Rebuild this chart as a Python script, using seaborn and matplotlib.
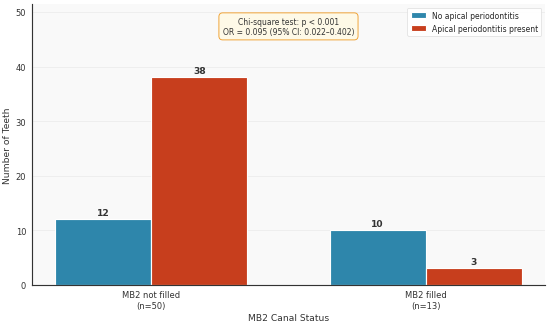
import pandas as pd
import matplotlib.pyplot as plt
import seaborn as sns

# Data
groups = ['MB2 not filled\n(n=50)', 'MB2 filled\n(n=13)']
no_ap = [12, 10]
ap_present = [38, 3]
series = ['No apical periodontitis', 'Apical periodontitis present']
colors = ['#2E86AB', '#C73E1D']

df = pd.DataFrame({
    'Group': groups * 2,
    'Count': no_ap + ap_present,
    'Status': [series[0]] * 2 + [series[1]] * 2,
})

sns.set_style('whitegrid')
plt.rcParams['font.family'] = ['DejaVu Sans']

fig, ax = plt.subplots(figsize=(10, 5.89), dpi=55)
ax.set_facecolor('#f9f9f9')

sns.barplot(data=df, x='Group', y='Count', hue='Status', hue_order=series,
            palette=colors, width=0.7, edgecolor='white', linewidth=1.5,
            saturation=1, ax=ax)

# value labels
for container in ax.containers:
    ax.bar_label(container, fmt='%d', padding=3, fontsize=12,
                 fontweight='bold', color='#333333')

ax.set_ylim(0, max(ap_present) * 1.355)
ax.set_xlim(-0.435, 1.435)
ax.set_xlabel('MB2 Canal Status', fontsize=12, color='#333333')
ax.set_ylabel('Number of Teeth', fontsize=12, color='#333333')
ax.tick_params(axis='both', labelsize=11, colors='#333333', length=4)
ax.grid(axis='y', color='#e8e8e8', linewidth=0.8)
ax.grid(axis='x', visible=False)
ax.set_axisbelow(True)

for side in ['top', 'right']:
    ax.spines[side].set_visible(False)
for side in ['left', 'bottom']:
    ax.spines[side].set_color('#333333')
    ax.spines[side].set_linewidth(1.5)

ax.legend(loc='upper right', fontsize=10, frameon=True, framealpha=0.9,
          edgecolor='#dddddd')

ax.text(0.5, 0.92, 'Chi-square test: p < 0.001\nOR = 0.095 (95% CI: 0.022\u20130.402)',
        transform=ax.transAxes, ha='center', va='center', fontsize=10,
        color='#333333',
        bbox=dict(boxstyle='round,pad=0.5', facecolor='#fef9e7',
                  edgecolor='#f0a030', linewidth=1.2))

plt.subplots_adjust(left=0.058, right=0.991, top=0.985, bottom=0.118)
plt.savefig('out.png', dpi=55)
